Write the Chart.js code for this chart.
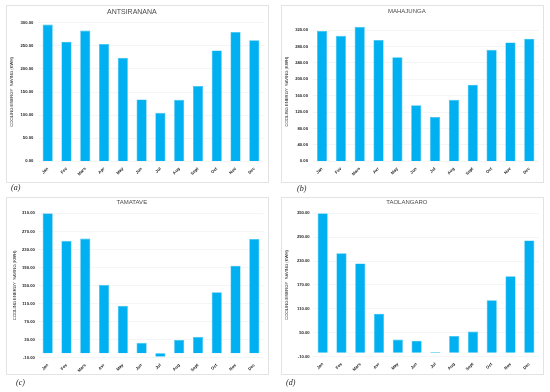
<!DOCTYPE html>
<html>
<head>
<meta charset="utf-8">
<script src="https://cdn.jsdelivr.net/npm/chart.js@4.4.1/dist/chart.umd.min.js"></script>
<style>
  html, body { margin: 0; padding: 0; background: #fff; }
  body { width: 550px; height: 392px; position: relative; overflow: hidden; }
  .box { position: absolute; border: 1px solid #e3e3e3; box-sizing: border-box; }
  .panel { position: absolute; width: 275px; height: 196px; }
  .cap { position: absolute; font-family: "Liberation Serif", "DejaVu Serif", serif; font-style: italic; font-size: 8px; color: #222; }
</style>
</head>
<body>
<div class="box" style="left:5.5px;top:4.5px;width:263.5px;height:178.5px"></div>
<div class="box" style="left:281px;top:4.5px;width:263px;height:178.5px"></div>
<div class="box" style="left:5.5px;top:196.5px;width:263.5px;height:178px"></div>
<div class="box" style="left:281px;top:196.5px;width:263px;height:178px"></div>

<div class="panel" style="left:0;top:0"><canvas id="cA" width="275" height="196"></canvas></div>
<div class="panel" style="left:275px;top:0"><canvas id="cB" width="275" height="196"></canvas></div>
<div class="panel" style="left:0;top:196px"><canvas id="cC" width="275" height="196"></canvas></div>
<div class="panel" style="left:275px;top:196px"><canvas id="cD" width="275" height="196"></canvas></div>

<div class="cap" style="left:11px;top:183px">(a)</div>
<div class="cap" style="left:297px;top:184px">(b)</div>
<div class="cap" style="left:16px;top:378px">(c)</div>
<div class="cap" style="left:286px;top:378px">(d)</div>

<script>
// ---- Data ----
const monthsA = ['Jan','Fev','Mars','Apr','May','Jun','Jul','Aug','Sept','Oct','Nov','Dec'];
const monthsB = ['Jan','Fev','Mars','Avr','May','Jun','Jul','Aug','Sept','Oct','Nov','Dec'];
const monthsC = ['Jan','Fev','Mars','Avr','May','Jun','Jul','Aug','Sept','Oct','Nov','Dec'];
const monthsD = ['Jan','Fev','Mars','Avr','May','Jun','Jul','Aug','Sept','Oct','Nov','Dec'];

const antsiranana = [296, 259, 283, 254, 224, 134, 105, 133, 163, 240, 280, 262];
const mahajunga   = [318, 306, 328, 296, 254, 137, 108, 150, 187, 272, 290, 299];
const tamatave    = [310, 249, 254, 151, 105, 23, -8, 29, 36, 135, 194, 253];
const taolangaro  = [350, 250, 224, 98, 33, 30, 1.5, 42, 53, 132, 192, 282];

const ticksA = [0, 50, 100, 150, 200, 250, 300];
const ticksB = [0, 40, 80, 120, 160, 200, 240, 280, 320];
const ticksC = [-10, 30, 70, 110, 150, 190, 230, 270, 310];
const ticksD = [-10, 50, 110, 170, 230, 290, 350];

const titles = ['ANTSIRANANA', 'MAHAJUNGA', 'TAMATAVE', 'TAOLANGARO'];
const yTitle = 'COOLING ENERGY  SAVING (KWH)';

// ---- Layout (panel coordinates) ----
const panels = [
  { id: 'cA', labels: monthsA, data: antsiranana, ticks: ticksA, title: titles[0], titleSize: 7,
    left: 38.3, right: 263.7, top: 22.7, bottom: 161.3, min: 0, max: 300, titleY: 11.7, yTitleX: 12.3, tickPad: 5 },
  { id: 'cB', labels: monthsB, data: mahajunga, ticks: ticksB, title: titles[1], titleSize: 6,
    left: 37.6, right: 263.7, top: 21.9, bottom: 161.3, min: 0, max: 340, titleY: 11.7, yTitleX: 12.3, tickPad: 4.6 },
  { id: 'cC', labels: monthsC, data: tamatave, ticks: ticksC, title: titles[2], titleSize: 6,
    left: 38.3, right: 263.7, top: 17.3, bottom: 161.7, min: -10, max: 310, titleY: 6.7, yTitleX: 15, tickPad: 3.5 },
  { id: 'cD', labels: monthsD, data: taolangaro, ticks: ticksD, title: titles[3], titleSize: 6,
    left: 38.3, right: 263.7, top: 17.3, bottom: 160.7, min: -10, max: 350, titleY: 6, yTitleX: 12.3, tickPad: 3.6 }
];

const W = 275, H = 196;
const tickFont = { family: 'Liberation Sans, Arial, sans-serif', size: 4.2, weight: 'bold' };

panels.forEach(p => {
  const tLine = p.titleSize * 1.2;
  const tPadTop = p.titleY - tLine / 2;
  const tPadBottom = p.top - tPadTop - tLine;
  const yTitleLine = 4.2 * 1.2;
  new Chart(document.getElementById(p.id), {
    type: 'bar',
    data: {
      labels: p.labels,
      datasets: [{
        data: p.data,
        backgroundColor: '#00B0F0',
        borderColor: '#33C0F2',
        borderWidth: 0.6,
        categoryPercentage: 1.0,
        barPercentage: 0.54
      }]
    },
    options: {
      responsive: false,
      animation: false,
      devicePixelRatio: 1,
      layout: { padding: { left: 0, right: W - p.right, top: 0, bottom: 0 } },
      plugins: {
        legend: { display: false },
        tooltip: { enabled: false },
        title: {
          display: true,
          text: p.title,
          color: '#4a4a4a',
          font: { family: 'Liberation Sans Narrow, Liberation Sans, Arial, sans-serif', size: p.titleSize, weight: 'normal' },
          padding: { top: tPadTop, bottom: tPadBottom }
        }
      },
      scales: {
        x: {
          grid: { display: false, drawTicks: false },
          border: { display: false },
          ticks: {
            font: tickFont, color: '#222', minRotation: 45, maxRotation: 45, padding: 5, autoSkip: false
          },
          afterFit: s => { s.height = H - p.bottom; }
        },
        y: {
          min: p.min, max: p.max,
          afterBuildTicks: s => { s.ticks = p.ticks.map(v => ({ value: v })); },
          grid: { color: '#efefef', lineWidth: 0.6, drawTicks: false },
          border: { display: false },
          ticks: {
            font: tickFont, color: '#222', padding: p.tickPad,
            callback: v => Number(v).toFixed(2)
          },
          title: {
            display: true,
            text: yTitle,
            color: '#222',
            font: { family: 'Liberation Sans, Arial, sans-serif', size: 4.2 },
            padding: { top: p.yTitleX - yTitleLine / 2, bottom: 0 }
          },
          afterFit: s => { s.width = p.left; }
        }
      }
    }
  });
});
</script>
</body>
</html>
